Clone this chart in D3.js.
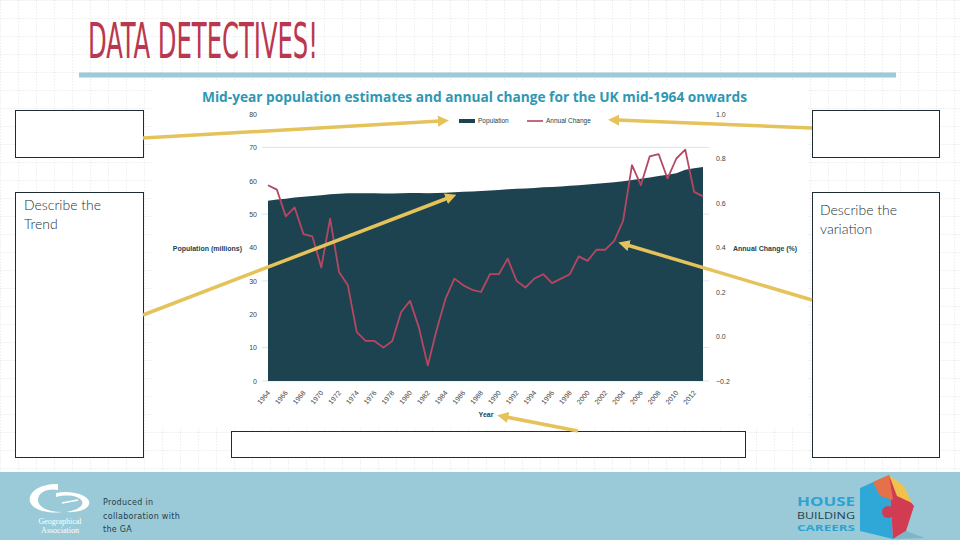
<!DOCTYPE html>
<html><head><meta charset="utf-8">
<script src="https://cdn.jsdelivr.net/npm/d3@7"></script>
<style>
html,body{margin:0;padding:0;background:#fff;}
svg{display:block;}
</style></head>
<body>
<svg id="chart" width="960" height="540"></svg>
<script>
// ---------------- DATA ----------------
const years = d3.range(1964, 2014);
const population = [53.99,54.35,54.64,54.96,55.21,55.46,55.63,55.93,56.10,56.22,
  56.24,56.23,56.22,56.19,56.18,56.24,56.33,56.36,56.29,56.32,
  56.41,56.55,56.68,56.80,56.92,57.08,57.24,57.44,57.58,57.71,
  57.86,58.02,58.16,58.31,58.48,58.68,58.89,59.11,59.32,59.56,
  59.85,60.24,60.58,60.99,61.40,61.79,62.26,63.29,63.71,64.11];
const annualChange = [0.68,0.66,0.54,0.58,0.46,0.45,0.31,0.53,0.29,0.23,
  0.02,-0.02,-0.02,-0.05,-0.02,0.11,0.16,0.04,-0.13,0.03,
  0.17,0.26,0.23,0.21,0.20,0.28,0.28,0.35,0.25,0.22,
  0.26,0.28,0.24,0.26,0.28,0.36,0.34,0.39,0.39,0.43,
  0.52,0.77,0.68,0.81,0.82,0.71,0.80,0.84,0.65,0.63];
const leftTicks = [0,10,20,30,40,50,60,70,80];
const rightTicks = [-0.2,0,0.2,0.4,0.6,0.8,1.0];
const gridTicks = [10,30,50,70];
const yearTicks = d3.range(1964, 2013, 2);
const chartTitle = "Mid-year population estimates and annual change for the UK mid-1964 onwards";
const legendLabels = ["Population","Annual Change"];

// ---------------- DRAW ----------------
const svg = d3.select("#chart");
const W = 960, H = 540;

// background grid
const defs = svg.append("defs");
const pat = defs.append("pattern").attr("id","grid").attr("patternUnits","userSpaceOnUse")
  .attr("width",18).attr("height",18);
pat.append("path").attr("d","M18 0 L0 0 0 18").attr("fill","none")
  .attr("stroke","#e3e3e3").attr("stroke-width",1).attr("stroke-dasharray","2,1");
svg.append("rect").attr("width",W).attr("height",H).attr("fill","#fff");
svg.append("rect").attr("width",W).attr("height",472).attr("fill","url(#grid)");
// white chart panel
svg.append("rect").attr("x",152).attr("y",82).attr("width",655).attr("height",345).attr("fill","#fff");

// header
svg.append("text").attr("x",88).attr("y",58).text("DATA DETECTIVES!")
  .attr("font-family","'DejaVu Sans Condensed','Liberation Sans Narrow',sans-serif")
  .attr("font-size",50).attr("fill","#b9384f")
  .attr("textLength",230).attr("lengthAdjust","spacingAndGlyphs");
svg.append("rect").attr("x",79).attr("y",72.5).attr("width",817).attr("height",5).attr("fill","#9ccad8");

// chart title
svg.append("text").attr("x",202).attr("y",102).text(chartTitle)
  .attr("font-family","'Open Sans',sans-serif").attr("font-weight","bold")
  .attr("font-size",13.5).attr("fill","#2f97b3")
  .attr("textLength",545).attr("lengthAdjust","spacingAndGlyphs");

// scales
const x = d3.scaleLinear().domain([1964,2013]).range([268,703]);
const yL = d3.scaleLinear().domain([0,80]).range([381,114]);
const yR = d3.scaleLinear().domain([-0.2,1.0]).range([381,114]);

// gridlines
svg.append("g").selectAll("line").data(gridTicks).join("line")
  .attr("x1",262).attr("x2",709).attr("y1",d=>yL(d)).attr("y2",d=>yL(d))
  .attr("stroke","#dbe4e8").attr("stroke-width",1);
svg.append("line").attr("x1",262).attr("x2",709).attr("y1",yL(0)).attr("y2",yL(0))
  .attr("stroke","#dbe4e8");

// area
const area = d3.area().x((d,i)=>x(years[i])).y0(yL(0)).y1(d=>yL(d));
svg.append("path").datum(population).attr("d",area).attr("fill","#1c434f");

// line
const line = d3.line().x((d,i)=>x(years[i])).y(d=>yR(d));
svg.append("path").datum(annualChange).attr("d",line).attr("fill","none")
  .attr("stroke","#b64762").attr("stroke-width",1.8).attr("stroke-linejoin","round");

const tickFont = "'Liberation Sans',Arial,sans-serif";
// left axis
const gl = svg.append("g").attr("transform","translate(260,0)")
  .call(d3.axisLeft(yL).tickValues(leftTicks).tickSize(0).tickPadding(3));
gl.select(".domain").remove();
gl.selectAll("text").attr("font-size",7).attr("fill","#444").attr("font-family",tickFont);
// right axis
const gr = svg.append("g").attr("transform","translate(712,0)")
  .call(d3.axisRight(yR).tickValues(rightTicks).tickSize(0).tickPadding(4).tickFormat(d3.format(".1f")));
gr.select(".domain").remove();
gr.selectAll("text").attr("font-size",7).attr("fill","#444").attr("font-family",tickFont);
// bottom axis
const gb = svg.append("g").attr("transform","translate(0,381)")
  .call(d3.axisBottom(x).tickValues(yearTicks).tickSize(0).tickPadding(0).tickFormat(d3.format("d")));
gb.select(".domain").remove();
gb.selectAll("text").attr("font-size",7).attr("fill","#444").attr("font-family",tickFont)
  .attr("text-anchor","end").attr("dy",0).attr("transform","translate(2,12) rotate(-50)");

// axis titles
const lab = (xx,yy,t,anchor)=>svg.append("text").attr("x",xx).attr("y",yy).text(t)
  .attr("font-family",tickFont).attr("font-weight","bold").attr("font-size",7)
  .attr("fill","#1c434f").attr("text-anchor",anchor||"start");
lab(242,251,"Population (millions)","end");
lab(733,251,"Annual Change (%)");
lab(486,417,"Year","middle");

// legend
svg.append("rect").attr("x",459).attr("y",119).attr("width",16).attr("height",4).attr("fill","#1c434f");
svg.append("text").attr("x",478).attr("y",123).text(legendLabels[0])
  .attr("font-family",tickFont).attr("font-size",6.5).attr("fill","#1c434f");
svg.append("line").attr("x1",527).attr("x2",543).attr("y1",121).attr("y2",121)
  .attr("stroke","#b64762").attr("stroke-width",1.6);
svg.append("text").attr("x",546).attr("y",123).text(legendLabels[1])
  .attr("font-family",tickFont).attr("font-size",6.5).attr("fill","#1c434f");

// boxes
const boxes = [[15,110,128,47],[15,192,128,265],[812,110,127,47],[812,192,127,265],[231,431,514,26]];
svg.append("g").selectAll("rect").data(boxes).join("rect")
  .attr("x",d=>d[0]+0.5).attr("y",d=>d[1]+0.5).attr("width",d=>d[2]).attr("height",d=>d[3])
  .attr("fill","#fff").attr("stroke","#1d2b33").attr("stroke-width",1);
const boxFont = "'Lato','DejaVu Sans',sans-serif";
const bt = (xx,yy,t)=>svg.append("text").attr("x",xx).attr("y",yy).text(t)
  .attr("font-family",boxFont).attr("font-size",14).attr("font-weight",300).attr("fill","#22333b");
bt(24,210,"Describe the"); bt(24,229,"Trend");
bt(820,215,"Describe the"); bt(820,234,"variation");

// arrows
defs.append("marker").attr("id","ah").attr("viewBox","0 0 10 10").attr("refX",2).attr("refY",5)
  .attr("markerWidth",3.2).attr("markerHeight",3.2).attr("orient","auto")
  .append("path").attr("d","M0,0 L10,5 L0,10 Z").attr("fill","#e6c25a");
const arrows = [[143,138,440,121],[812,128,617,120],[143,315,448,198],[812,300,627,245],[578,431,506,417]];
svg.append("g").selectAll("line").data(arrows).join("line")
  .attr("x1",d=>d[0]).attr("y1",d=>d[1]).attr("x2",d=>d[2]).attr("y2",d=>d[3])
  .attr("stroke","#e6c25a").attr("stroke-width",3.5).attr("marker-end","url(#ah)");

// footer
svg.append("rect").attr("x",0).attr("y",472).attr("width",W).attr("height",68).attr("fill","#9acad8");
// GA logo
const ga = svg.append("g");
ga.append("path").attr("d","M58,484 C36,484 28,494 30,502 C33,510 48,514 62,512 C48,512 38,507 38,500 C38,492 48,488 58,490 Z").attr("fill","#fff");
ga.append("path").attr("d","M56,493 C70,490 86,494 89,501 C91,508 80,513 66,512 C78,510 84,506 82,501 C79,496 68,494 56,497 Z").attr("fill","#fff");
ga.append("line").attr("x1",62).attr("y1",503).attr("x2",78).attr("y2",500).attr("stroke","#fff").attr("stroke-width",1.5);
ga.append("text").attr("x",60).attr("y",524).text("Geographical").attr("text-anchor","middle")
  .attr("font-family","'Liberation Serif',serif").attr("font-size",8).attr("fill","#fff");
ga.append("text").attr("x",60).attr("y",533).text("Association").attr("text-anchor","middle")
  .attr("font-family","'Liberation Serif',serif").attr("font-size",8).attr("fill","#fff");
["Produced in","collaboration with","the GA"].forEach((t,i)=>{
  svg.append("text").attr("x",103).attr("y",505+i*13.5).text(t)
    .attr("font-family","'DejaVu Sans',sans-serif").attr("font-size",8).attr("letter-spacing",0.3)
    .attr("fill","#26404a");
});
// House Building Careers logo
svg.append("text").attr("x",797).attr("y",506).text("HOUSE").attr("font-family","'Open Sans',sans-serif")
  .attr("font-weight","bold").attr("font-size",13).attr("fill","#2ca3d3").attr("textLength",58).attr("lengthAdjust","spacingAndGlyphs");
svg.append("text").attr("x",797).attr("y",518.5).text("BUILDING").attr("font-family","'Open Sans',sans-serif")
  .attr("font-size",9.5).attr("fill","#24424f").attr("textLength",58).attr("lengthAdjust","spacingAndGlyphs");
svg.append("text").attr("x",797).attr("y",530.5).text("CAREERS").attr("font-family","'Open Sans',sans-serif")
  .attr("font-weight","bold").attr("font-size",9.5).attr("fill","#2ca3d3").attr("textLength",58).attr("lengthAdjust","spacingAndGlyphs");
const hx = svg.append("g");
hx.append("polygon").attr("points","860,488 889,475 893,539 860,531").attr("fill","#2fa8d8");
hx.append("polygon").attr("points","889,475 914,506 906,531 893,539").attr("fill","#d13c52");
hx.append("polygon").attr("points","873,482 889,475 893,500 880,496").attr("fill","#e4714a");
hx.append("polygon").attr("points","889,475 904,486 912,503 897,496").attr("fill","#f0c24d");
hx.append("circle").attr("cx",888).attr("cy",512).attr("r",6).attr("fill","#d13c52");
hx.append("polygon").attr("points","893,539 906,531 925,538").attr("fill","#7fb5c7");
</script>
</body></html>
